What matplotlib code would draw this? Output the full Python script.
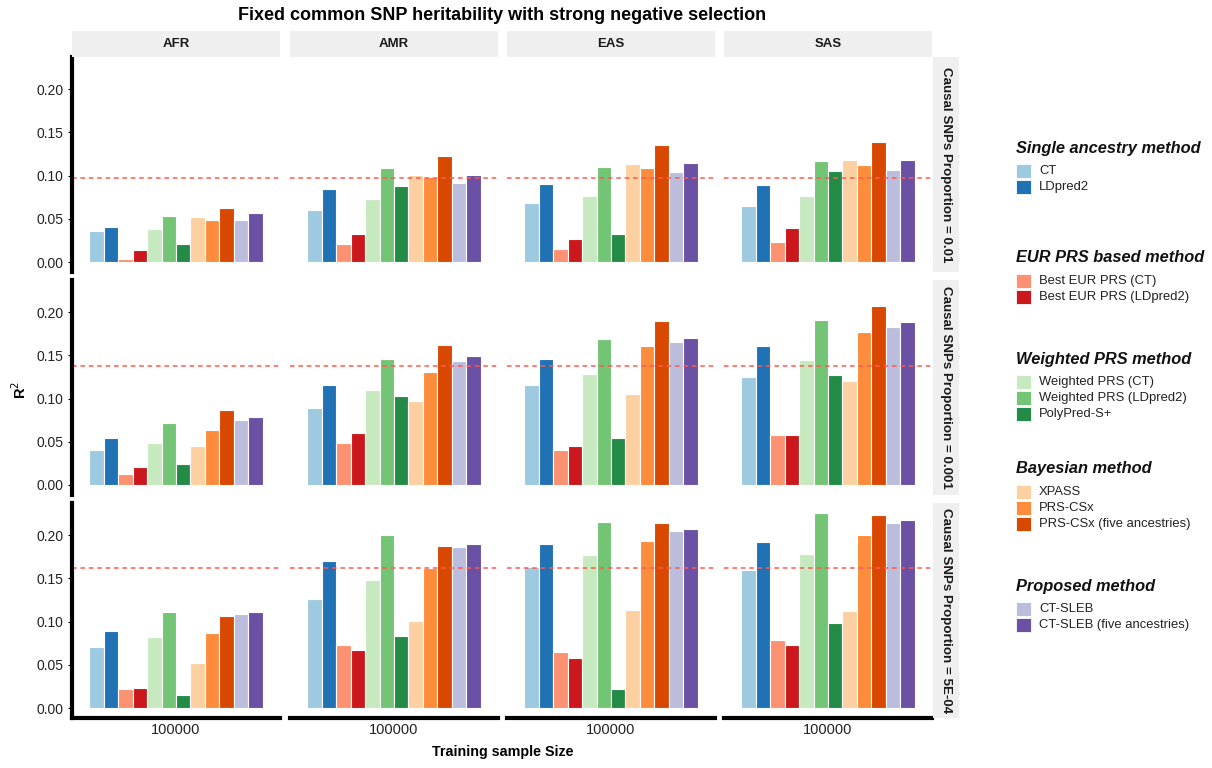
import numpy as np
import matplotlib
matplotlib.use("Agg")
import matplotlib.pyplot as plt
from matplotlib.patches import Rectangle

plt.rcParams["font.family"] = ["Liberation Sans", "DejaVu Sans"]

ancestries = ["AFR", "AMR", "EAS", "SAS"]
proportions = ["0.01", "0.001", "5E-04"]
methods = ["CT", "LDpred2",
           "Best EUR PRS (CT)", "Best EUR PRS (LDpred2)",
           "Weighted PRS (CT)", "Weighted PRS (LDpred2)", "PolyPred-S+",
           "XPASS", "PRS-CSx", "PRS-CSx (five ancestries)",
           "CT-SLEB", "CT-SLEB (five ancestries)"]
colors = ["#9ECAE1", "#2171B5",
          "#FC9272", "#CB181D",
          "#C7E9C0", "#74C476", "#238B45",
          "#FDD0A2", "#FD8D3C", "#D94801",
          "#BCBDDC", "#6A51A3"]
groups = [("Single ancestry method", 0, 2),
          ("EUR PRS based method", 2, 4),
          ("Weighted PRS method", 4, 7),
          ("Bayesian method", 7, 10),
          ("Proposed method", 10, 12)]

# R2 per proportion, per ancestry, in method order
r2_p01 = {
    "AFR": [0.036, 0.040, 0.0035, 0.0135, 0.0386, 0.0536, 0.0208, 0.0517, 0.049, 0.0622, 0.0486, 0.0571],
    "AMR": [0.060, 0.0845, 0.0208, 0.032, 0.073, 0.1085, 0.0876, 0.101, 0.0988, 0.1224, 0.091, 0.1004],
    "EAS": [0.0687, 0.0907, 0.0147, 0.0263, 0.0768, 0.110, 0.0328, 0.1139, 0.1085, 0.135, 0.104, 0.115],
    "SAS": [0.0645, 0.089, 0.0228, 0.039, 0.077, 0.117, 0.1054, 0.1178, 0.1123, 0.1386, 0.1065, 0.1178],
}
r2_p001 = {
    "AFR": [0.0409, 0.0548, 0.0123, 0.0205, 0.049, 0.0718, 0.0247, 0.0452, 0.064, 0.0868, 0.0749, 0.0784],
    "AMR": [0.0895, 0.116, 0.0486, 0.0602, 0.1096, 0.1459, 0.1027, 0.0976, 0.1309, 0.1625, 0.1436, 0.149],
    "EAS": [0.116, 0.1463, 0.0402, 0.0452, 0.1289, 0.169, 0.054, 0.105, 0.1613, 0.190, 0.1656, 0.1706],
    "SAS": [0.1247, 0.161, 0.0575, 0.058, 0.1447, 0.1914, 0.1274, 0.1208, 0.1775, 0.207, 0.1826, 0.1884],
}
r2_p5e4 = {
    "AFR": [0.0704, 0.0886, 0.0217, 0.0237, 0.0817, 0.111, 0.0151, 0.0526, 0.0874, 0.1067, 0.1087, 0.111],
    "AMR": [0.1261, 0.1698, 0.0724, 0.0677, 0.148, 0.2007, 0.0832, 0.1002, 0.162, 0.188, 0.186, 0.1903],
    "EAS": [0.163, 0.1895, 0.0646, 0.058, 0.1775, 0.2154, 0.0225, 0.1133, 0.1934, 0.2139, 0.2046, 0.207],
    "SAS": [0.160, 0.1918, 0.0785, 0.0724, 0.1783, 0.2259, 0.0979, 0.1125, 0.2003, 0.2236, 0.2143, 0.2178],
}
r2_rows = [r2_p01, r2_p001, r2_p5e4]
ref_line = [0.0969, 0.1374, 0.162]   # dashed reference per row
sample_size = "100000"

W, H = 1212, 768
fig = plt.figure(figsize=(W / 100, H / 100), dpi=100)

def box(x0, y0, w, h):
    # pixel box (top-left origin) -> figure fraction
    return [x0 / W, 1 - (y0 + h) / H, w / W, h / H]

def fx(x):
    return x / W

def fy(y):
    return 1 - y / H

col_left = [72, 290, 507, 724]
col_w = 208
ylo, yhi = -0.0113, 0.2372
px_per_unit = 1 / 0.001158
row_zero = [262, 485, 708]
row_h = (yhi - ylo) * px_per_unit

nb = len(methods)
xs = -0.5 + (np.arange(nb) + 0.5) / nb

for r, vals in enumerate(r2_rows):
    top = row_zero[r] - yhi * px_per_unit
    for c, anc in enumerate(ancestries):
        ax = fig.add_axes(box(col_left[c], top, col_w, row_h))
        ax.bar(xs, vals[anc], width=1 / nb, color=colors, edgecolor="white", linewidth=0.8)
        ax.axhline(ref_line[r], color="#FF5A4F", lw=1.1, ls=(0, (3, 2.5)))
        ax.set_xlim(-0.6, 0.6)
        ax.set_ylim(ylo, yhi)
        for s in ax.spines.values():
            s.set_visible(False)
        if c == 0:
            ax.spines["left"].set_visible(True)
            ax.spines["left"].set_linewidth(3)
            ax.set_yticks([0, 0.05, 0.10, 0.15, 0.20])
            ax.set_yticklabels(["0.00", "0.05", "0.10", "0.15", "0.20"], fontsize=10, color="#222222")
            ax.tick_params(axis="y", length=3, width=0.8, pad=3)
        else:
            ax.set_yticks([])
        if r == 2:
            ax.spines["bottom"].set_visible(True)
            ax.spines["bottom"].set_linewidth(3)
            ax.set_xticks([0])
            ax.set_xticklabels([sample_size], fontsize=10.5, color="#222222")
            ax.tick_params(axis="x", length=0, pad=4)
        else:
            ax.set_xticks([])
        if r == 0:
            fig.patches.append(Rectangle((fx(col_left[c]), fy(57)), col_w / W, 26 / H,
                                         transform=fig.transFigure, facecolor="#EFEFEF",
                                         edgecolor="none"))
            fig.text(fx(col_left[c] + col_w / 2), fy(44), anc, ha="center", va="center",
                     fontsize=9.5, fontweight="bold", color="#1a1a1a")
    # facet strip on the right
    fig.patches.append(Rectangle((fx(933), fy(top + row_h)), 26 / W, row_h / H,
                                 transform=fig.transFigure, facecolor="#EFEFEF", edgecolor="none"))
    fig.text(fx(946), fy(top + row_h / 2), f"Causal SNPs Proportion = {proportions[r]}",
             rotation=-90, ha="center", va="center", fontsize=9.6, fontweight="bold",
             color="#1a1a1a")

fig.text(fx(502), fy(15), "Fixed common SNP heritability with strong negative selection",
         ha="center", va="center", fontsize=13, fontweight="bold")
fig.text(fx(503), fy(752), "Training sample Size", ha="center", va="center",
         fontsize=10.3, fontweight="bold")
fig.text(fx(20), fy(390), "R$^2$", ha="center", va="center", rotation=90,
         fontsize=10.5, fontweight="bold")

# legend blocks, one per method family
title_y = [148, 258, 359, 469, 586]
for (title, a, b), ty in zip(groups, title_y):
    fig.text(fx(1016), fy(ty), title, ha="left", va="center", fontsize=11.8,
             fontweight="bold", fontstyle="italic", color="#111111")
    for k, i in enumerate(range(a, b)):
        yc = ty + 23 + 16 * k
        fig.patches.append(Rectangle((fx(1016), fy(yc + 7)), 15 / W, 14 / H,
                                     transform=fig.transFigure, facecolor=colors[i],
                                     edgecolor="white", linewidth=0.6))
        fig.text(fx(1039), fy(yc), methods[i], ha="left", va="center", fontsize=9.4,
                 color="#222222")

fig.savefig("out.png", dpi=100)
